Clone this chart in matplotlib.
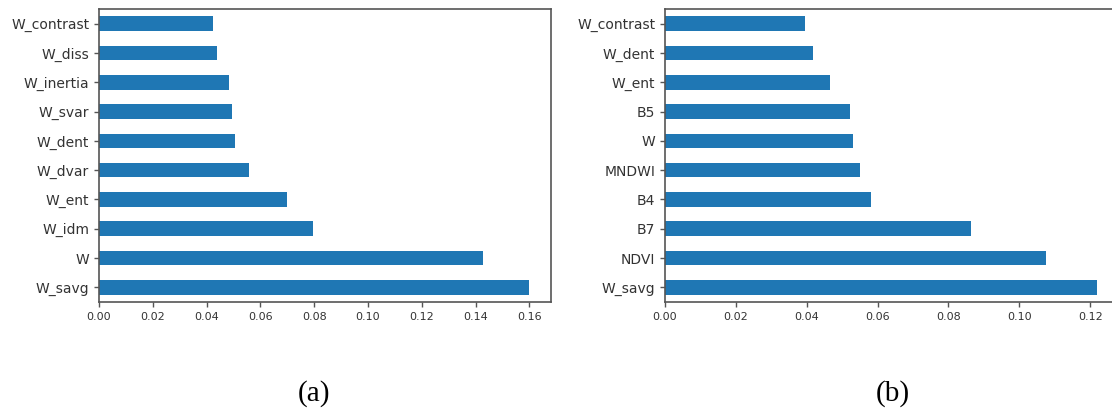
import matplotlib
matplotlib.use("Agg")
import matplotlib.pyplot as plt

# Feature importances, listed bottom-to-top as drawn
features_a = ["W_savg", "W", "W_idm", "W_ent", "W_dvar", "W_dent",
              "W_svar", "W_inertia", "W_diss", "W_contrast"]
importance_a = [0.160, 0.1426, 0.0795, 0.0699, 0.0556, 0.0505,
                0.0495, 0.0485, 0.0439, 0.0424]

features_b = ["W_savg", "NDVI", "B7", "B4", "MNDWI", "W",
              "B5", "W_ent", "W_dent", "W_contrast"]
importance_b = [0.1218, 0.1074, 0.0863, 0.0582, 0.0551, 0.0530,
                0.0523, 0.0467, 0.0417, 0.0396]

panel_labels = ["(a)", "(b)"]
xticks_a = [0.00, 0.02, 0.04, 0.06, 0.08, 0.10, 0.12, 0.14, 0.16]
xticks_b = [0.00, 0.02, 0.04, 0.06, 0.08, 0.10, 0.12]

BAR = "#1f77b4"

fig = plt.figure(figsize=(11.12, 4.12), dpi=100)
ax_a = fig.add_axes([0.089, 0.267, 0.4065, 0.711])
ax_b = fig.add_axes([0.598, 0.267, 0.4075, 0.711])


def draw_panel(ax, names, values, ticks):
    pos = list(range(len(names)))
    ax.barh(pos, values, height=0.5, color=BAR)
    ax.set_yticks(pos)
    ax.set_yticklabels(names, fontsize=10)
    ax.set_ylim(-0.5, len(names) - 0.5)
    ax.set_xlim(0, max(values) * 1.05)
    ax.set_xticks(ticks)
    ax.set_xticklabels([f"{t:.2f}" for t in ticks], fontsize=8)
    for sp in ax.spines.values():
        sp.set_color("#555555")
        sp.set_linewidth(1.2)
    ax.tick_params(color="#555555", labelcolor="#333333",
                   length=3.5, width=1.0)


draw_panel(ax_a, features_a, importance_a, xticks_a)
draw_panel(ax_b, features_b, importance_b, xticks_b)

fig.text(314 / 1112, 1 - 394 / 412, panel_labels[0], fontsize=21,
         family="Liberation Serif", ha="center", va="center")
fig.text(893 / 1112, 1 - 394 / 412, panel_labels[1], fontsize=21,
         family="Liberation Serif", ha="center", va="center")

fig.savefig("out.png", dpi=100)
